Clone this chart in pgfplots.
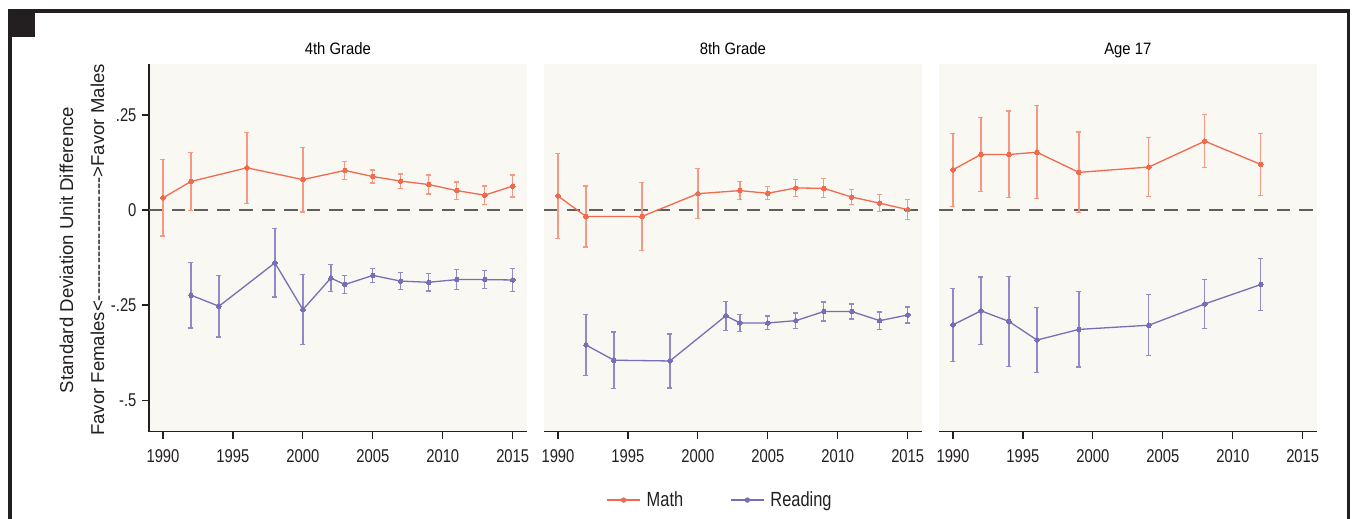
\documentclass[border=0pt]{standalone}
\usepackage{pgfplots}
\pgfplotsset{compat=1.18}
\usepackage{fontspec}
\setmainfont{Liberation Sans}
\newfontfamily\cond[FakeStretch=0.8]{Liberation Sans}
\newfontfamily\condt[FakeStretch=0.9]{Liberation Sans}
\definecolor{mathc}{RGB}{241,106,77}
\definecolor{mathe}{RGB}{245,152,132}
\definecolor{readc}{RGB}{118,110,182}
\definecolor{reade}{RGB}{145,138,198}
\definecolor{bgc}{RGB}{249,248,242}
\definecolor{axc}{RGB}{35,31,32}
\definecolor{zeroc}{RGB}{95,95,95}

\pgfplotsset{
 panel/.style={
  anchor=south west, scale only axis, width=377.7pt, height=367.7pt,
  xmin=1989, xmax=2016, ymin=-0.583, ymax=0.384,
  axis background/.style={fill=bgc, draw=none},
  axis x line*=bottom,
  axis line style={color=axc, line width=1.5pt},
  xtick={1990,1995,2000,2005,2010,2015},
  xticklabels={1990,1995,2000,2005,2010,2015},
  tick align=outside, major tick length=7pt,
  tick style={color=axc, line width=1.2pt},
  ticklabel style={font=\cond\fontsize{18.5}{20}\selectfont, color=axc},
  xticklabel style={yshift=-7pt},
  title style={font=\condt\fontsize{16.5}{18}\selectfont, at={(0.5,1)}, anchor=base, yshift=3pt},
  clip=false,
 },
 mplot/.style={color=mathc, line width=1.3pt, mark=*, mark size=2.3pt,
   mark options={fill=mathc, draw=mathc, line width=0pt},
   /pgfplots/error bars/y dir=both, /pgfplots/error bars/y explicit,
   /pgfplots/error bars/error bar style={color=mathe, line width=1.3pt},
   /pgfplots/error bars/error mark options={rotate=90, color=mathe, mark size=2.5pt, line width=1.3pt}},
 rplot/.style={color=readc, line width=1.3pt, mark=*, mark size=2.3pt,
   mark options={fill=readc, draw=readc, line width=0pt},
   /pgfplots/error bars/y dir=both, /pgfplots/error bars/y explicit,
   /pgfplots/error bars/error bar style={color=reade, line width=1.3pt},
   /pgfplots/error bars/error mark options={rotate=90, color=reade, mark size=2.5pt, line width=1.3pt}},
 zplot/.style={color=zeroc, line width=1.5pt, dash pattern=on 13.5pt off 9pt, forget plot},
}

\begin{document}
\begin{tikzpicture}
\useasboundingbox (0pt,0pt) rectangle (1355pt,519pt);
% frame
\fill[axc] (8pt,506.3pt) rectangle (1350pt,509.7pt);
\fill[axc] (8.3pt,0pt) rectangle (12pt,509.7pt);
\fill[axc] (1346.7pt,0pt) rectangle (1350pt,509.7pt);
\fill[axc] (12pt,482.3pt) rectangle (35pt,506.3pt);
% y label
\node[rotate=90, anchor=base, font=\fontsize{18.6}{22}\selectfont, text=axc] at (73pt,269pt) {Standard Deviation Unit Difference};
\node[rotate=90, anchor=base, font=\fontsize{18.6}{22}\selectfont, text=axc] at (104pt,269pt) {Favor Females<-{}-{}-{}-{}-{}-{}-{}-{}-{}-{}-{}-{}-{}-{}-{}-{}-{}-{}-{}-{}>Favor Males};

% Panel 1
\begin{axis}[panel, at={(149pt,87.3pt)}, title={4th Grade},
  axis y line*=left, ytick={-0.5,-0.25,0,0.25}, yticklabels={-.5,-.25,0,.25},
  yticklabel style={xshift=-2pt}]
\addplot[zplot] coordinates {(1989,0) (2016,0)};
\addplot[mplot, forget plot] table[x=x, y=y, y error=e] {
x y e
1990 0.032 0.100
1992 0.075 0.077
1996 0.111 0.093
2000 0.080 0.085
2003 0.104 0.024
2005 0.088 0.017
2007 0.076 0.019
2009 0.067 0.025
2011 0.051 0.023
2013 0.039 0.024
2015 0.063 0.029
};
\addplot[rplot, forget plot] table[x=x, y=y, y error=e] {
x y e
1992 -0.224 0.086
1994 -0.253 0.081
1998 -0.139 0.090
2000 -0.262 0.092
2002 -0.179 0.036
2003 -0.196 0.024
2005 -0.172 0.019
2007 -0.187 0.022
2009 -0.190 0.023
2011 -0.183 0.026
2013 -0.183 0.024
2015 -0.184 0.031
};
\end{axis}

% Panel 2
\begin{axis}[panel, at={(544pt,87.3pt)}, title={8th Grade},
  axis y line=none,
  legend columns=2,
  legend style={at={(axis description cs:0.466,-0.186)}, anchor=center, draw=none, fill=none,
    font=\cond\fontsize{20.5}{22}\selectfont, text=axc,
    /tikz/every odd column/.append style={column sep=4pt},
    /tikz/every even column/.append style={column sep=45pt}},
  legend image code/.code={\draw[mark repeat=2,mark phase=2,#1] plot coordinates {(0pt,0pt) (16.5pt,0pt) (33pt,0pt)};}]
\addplot[zplot] coordinates {(1989,0) (2016,0)};
\addplot[mplot, forget plot] table[x=x, y=y, y error=e] {
x y e
1990 0.037 0.112
1992 -0.017 0.080
1996 -0.017 0.090
2000 0.043 0.066
2003 0.051 0.024
2005 0.044 0.017
2007 0.058 0.023
2009 0.057 0.025
2011 0.034 0.020
2013 0.018 0.022
2015 0.001 0.026
};
\addplot[rplot, forget plot] table[x=x, y=y, y error=e] {
x y e
1992 -0.355 0.080
1994 -0.395 0.074
1998 -0.397 0.071
2002 -0.278 0.038
2003 -0.297 0.022
2005 -0.297 0.018
2007 -0.291 0.020
2009 -0.267 0.025
2011 -0.267 0.020
2013 -0.291 0.023
2015 -0.276 0.021
};
\addlegendimage{color=mathc, line width=1.3pt, mark=*, mark size=2pt, mark options={fill=mathc, draw=mathc}}
\addlegendentry{Math}
\addlegendimage{color=readc, line width=1.3pt, mark=*, mark size=2pt, mark options={fill=readc, draw=readc}}
\addlegendentry{Reading}
\end{axis}

% Panel 3
\begin{axis}[panel, at={(939pt,87.3pt)}, title={Age 17},
  axis y line=none]
\addplot[zplot] coordinates {(1989,0) (2016,0)};
\addplot[mplot, forget plot] table[x=x, y=y, y error=e] {
x y e
1990 0.106 0.096
1992 0.146 0.098
1994 0.146 0.114
1996 0.152 0.122
1999 0.099 0.106
2004 0.113 0.077
2008 0.181 0.070
2012 0.120 0.082
};
\addplot[rplot, forget plot] table[x=x, y=y, y error=e] {
x y e
1990 -0.302 0.096
1992 -0.265 0.089
1994 -0.293 0.118
1996 -0.342 0.085
1999 -0.314 0.099
2004 -0.303 0.080
2008 -0.247 0.064
2012 -0.196 0.068
};
\end{axis}
\end{tikzpicture}
\end{document}
